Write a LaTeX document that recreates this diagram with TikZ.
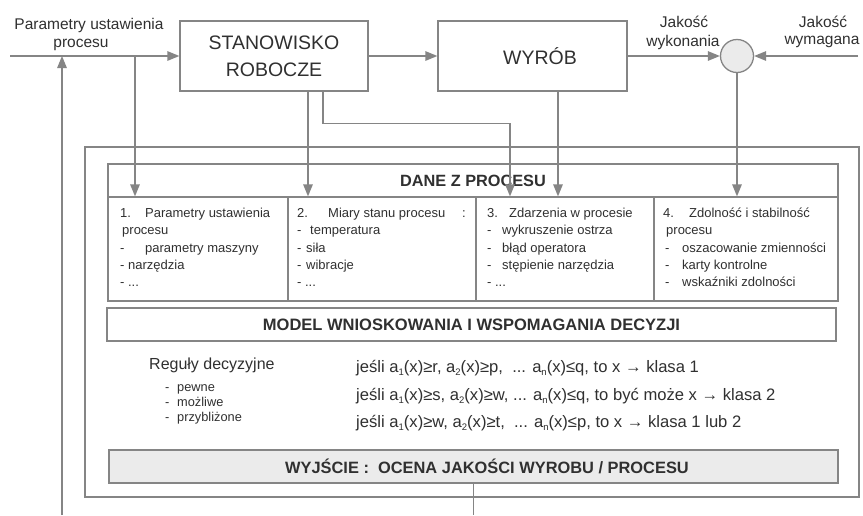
\documentclass[tikz,border=0pt]{standalone}
\usepackage{fontspec}
\setmainfont{Liberation Sans}
\usetikzlibrary{arrows.meta}
\definecolor{ln}{HTML}{858585}
\definecolor{tx}{HTML}{303030}
\definecolor{fillg}{HTML}{EBEBEB}
\newcommand\fsz[1]{\fontsize{#1}{#1}\selectfont}
\newcommand\sbx[1]{\raisebox{-0.3ex}{\fontsize{9.5}{9.5}\selectfont #1}}
\begin{document}
\begin{tikzpicture}[x=1pt,y=-1pt,
  lnst/.style={draw=ln, line width=1.3pt},
  arr/.style={lnst, -{Triangle[length=12pt,width=9.5pt]}},
  box/.style={draw=ln, line width=1.3pt, rectangle, inner sep=0pt, text=tx},
  lbl/.style={inner sep=0pt, text=tx},
  celltxt/.style={inner sep=0pt, text=tx, anchor=base west}]
\useasboundingbox (0,0) rectangle (863,515);
\fill[white] (0,0) rectangle (863,515);

% outer frame and inner boxes
\node[box, minimum width=774pt, minimum height=350pt] (outer) at (472,322) {};
\node[box, minimum width=730pt, minimum height=33pt, font=\bfseries\fsz{16.3}] (hdr) at (473,180.5) {DANE Z PROCESU};
\node[box, minimum width=180pt, minimum height=104pt] (c1) at (198,249) {};
\node[box, minimum width=188pt, minimum height=104pt] (c2) at (382,249) {};
\node[box, minimum width=178pt, minimum height=104pt] (c3) at (565,249) {};
\node[box, minimum width=184pt, minimum height=104pt] (c4) at (746,249) {};
\node[box, minimum width=729pt, minimum height=33pt, font=\bfseries\fsz{16.5}] (model) at (471.5,324.5) {MODEL WNIOSKOWANIA I WSPOMAGANIA DECYZJI};
\node[box, fill=fillg, minimum width=729pt, minimum height=33pt] (out) at (473.5,466.5) {};
\node[lbl, font=\bfseries\fsz{16.4}] (outtxt) at (487,466.5) {WYJŚCIE :\ \ OCENA JAKOŚCI WYROBU / PROCESU};

% cell texts
\node[celltxt] (t1) at (120,217.5) {\parbox[t]{170pt}{\fontsize{13}{17.3}\selectfont
  \makebox[25pt][l]{1.}Parametry ustawienia\\
  \hspace*{2pt}procesu\\
  \makebox[25pt][l]{-}parametry maszyny\\
  \makebox[8pt][l]{-}narzędzia\\
  - ...}};
\node[celltxt] (t2) at (297,217.5) {\parbox[t]{180pt}{\fontsize{13}{17.3}\selectfont
  \makebox[31pt][l]{2.}\makebox[134pt][l]{Miary stanu procesu}:\\
  \makebox[13pt][l]{-}temperatura\\
  \makebox[9pt][l]{-}siła\\
  \makebox[9pt][l]{-}wibracje\\
  - ...}};
\node[celltxt] (t3) at (487,217.5) {\parbox[t]{170pt}{\fontsize{13}{17.3}\selectfont
  \makebox[22pt][l]{3.}Zdarzenia w procesie\\
  \makebox[15pt][l]{-}wykruszenie ostrza\\
  \makebox[15pt][l]{-}błąd operatora\\
  \makebox[15pt][l]{-}stępienie narzędzia\\
  - ...}};
\node[celltxt] (t4) at (663,217.5) {\parbox[t]{172pt}{\fontsize{13}{17.3}\selectfont
  \makebox[26pt][l]{4.}Zdolność i stabilność\\
  \hspace*{3pt}procesu\\
  \hspace*{2pt}\makebox[17pt][l]{-}oszacowanie zmienności\\
  \hspace*{2pt}\makebox[17pt][l]{-}karty kontrolne\\
  \hspace*{2pt}\makebox[17pt][l]{-}wskaźniki zdolności}};

% decision rules
\node[lbl, anchor=west, font=\fsz{16}] (reg) at (149,365) {Reguły decyzyjne};
\node[celltxt] (regl) at (165,391) {\parbox[t]{100pt}{\fontsize{12.8}{15}\selectfont
  \makebox[12pt][l]{-}pewne\\
  \makebox[12pt][l]{-}możliwe\\
  \makebox[12pt][l]{-}przybliżone}};
\node[lbl, anchor=west, font=\fsz{16.6}] (r1) at (356,368)
  {jeśli a\sbx{1}(x)≥r, a\sbx{2}(x)≥p,\ \ ... a\sbx{n}(x)≤q, to x → klasa 1};
\node[lbl, anchor=west, font=\fsz{16.6}] (r2) at (356,396)
  {jeśli a\sbx{1}(x)≥s, a\sbx{2}(x)≥w, ... a\sbx{n}(x)≤q, to być może x → klasa 2};
\node[lbl, anchor=west, font=\fsz{16.6}] (r3) at (356,423)
  {jeśli a\sbx{1}(x)≥w, a\sbx{2}(x)≥t,\ \ ... a\sbx{n}(x)≤p, to x → klasa 1 lub 2};

% top process blocks
\node[box, minimum width=188pt, minimum height=70pt, align=center, font=\fontsize{19.5}{27}\selectfont] (st) at (274,56) {STANOWISKO\\ROBOCZE};
\node[box, minimum width=189pt, minimum height=70pt] (wy) at (532.5,56) {};
\node[lbl, font=\fsz{19.5}] (wytxt) at (540,56) {WYRÓB};
\node[draw=ln, line width=1.3pt, circle, fill=fillg, minimum size=33pt, inner sep=0pt] (cmp) at (737,56) {};

% top labels
\node[lbl, font=\fsz{15.5}] (pl1) at (89,25) {Parametry ustawienia};
\node[lbl, font=\fsz{15.5}] (pl2) at (81,45) {procesu};
\node[lbl, font=\fsz{15.5}] (jw1) at (684,22) {Jakość};
\node[lbl, font=\fsz{15.5}] (jw2) at (683,42) {wykonania};
\node[lbl, font=\fsz{15.5}] (jm1) at (823,22) {Jakość};
\node[lbl, font=\fsz{15.5}] (jm2) at (822,42) {wymagana};

% connectors
\coordinate (in0) at (10,56);
\coordinate (br1) at (135,56);
\coordinate (fb) at (62,515);
\coordinate (req) at (858,56);
\coordinate (bot) at (0,515);
\draw[arr] (in0) -- (st.west);
\draw[arr] (fb) -- (fb |- st.west);
\draw[arr] (br1) -- (br1 |- c1.north);
\draw[arr] (st.east) -- (wy.west);
\draw[arr] (wy.east) -- (cmp.west);
\draw[arr] (req) -- (cmp.east);
\draw[arr] (cmp.south) -- (cmp.south |- c4.north);
\draw[arr] ([xshift=34pt]st.south) -- ([xshift=34pt]st.south |- c2.north);
\draw[arr] ([xshift=49pt]st.south) -- ++(0,32) -| ([xshift=-55pt]c3.north);
\draw[arr] ([xshift=25.5pt]wy.south) -- ([xshift=25.5pt]wy.south |- c3.north);
\draw[lnst] (out.south) -- (out.south |- bot);
\end{tikzpicture}
\end{document}
